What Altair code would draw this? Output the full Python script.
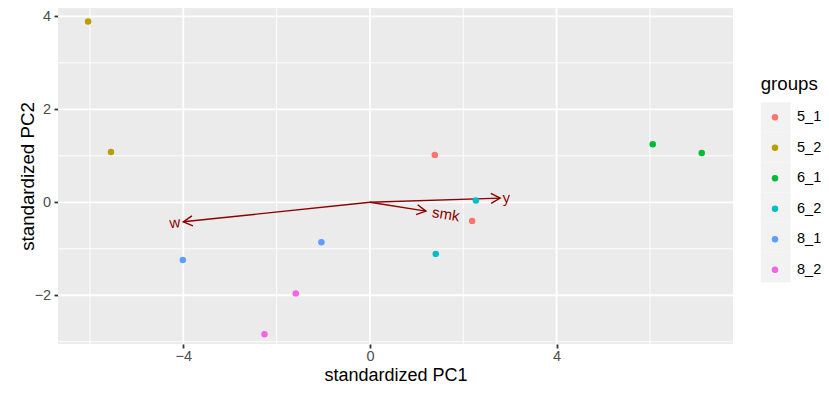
import math
import altair as alt
import pandas as pd

# ---------------- data ----------------
groups = ["5_1", "5_2", "6_1", "6_2", "8_1", "8_2"]
group_colors = ["#F8766D", "#B79F00", "#00BA38", "#00BFC4", "#619CFF", "#F564E3"]

pt_group = ["5_1", "5_1", "5_2", "5_2", "6_1", "6_1", "6_2", "6_2", "8_1", "8_1", "8_2", "8_2"]
pt_pc1 = [1.39, 2.19, -6.04, -5.55, 6.06, 7.11, 2.27, 1.41, -4.01, -1.04, -1.59, -2.26]
pt_pc2 = [1.02, -0.40, 3.89, 1.08, 1.25, 1.06, 0.04, -1.11, -1.24, -0.86, -1.96, -2.84]

var_names = ["y", "smk", "w"]
var_pc1 = [2.79, 1.20, -4.00]
var_pc2 = [0.09, -0.19, -0.42]

x_major = [-4, 0, 4]
x_minor = [-6, -2, 2, 6]
y_major = [-2, 0, 2, 4]
y_minor = [-3, -1, 1, 3]

x_domain = [-6.685, 7.78]
y_domain = [-3.049, 4.18]

# ---------------- style ----------------
FONT = "Liberation Sans"
ARROW = "#8B0000"
HEAD = "M-1,-0.54L0,0L-1,0.54"
label_dx = {"y": 2.5, "smk": 6.5, "w": -3.0}

pts = pd.DataFrame({"pc1": pt_pc1, "pc2": pt_pc2, "group": pt_group, "key": pt_group})

vars_df = pd.DataFrame({"name": var_names, "pc1": var_pc1, "pc2": var_pc2})
vars_df["x0"] = 0.0
vars_df["y0"] = 0.0
vars_df["head_ang"] = [math.degrees(math.atan2(-b, a)) % 360 for a, b in zip(var_pc1, var_pc2)]
vars_df["txt_ang"] = [(-math.degrees(math.atan(b / a))) % 360 for a, b in zip(var_pc1, var_pc2)]

xs = alt.Scale(domain=x_domain, nice=False, zero=False)
ys = alt.Scale(domain=y_domain, nice=False, zero=False)
xaxis = alt.Axis(values=x_major, title="standardized PC1", titleBaseline="alphabetic", titleY=36.5,
                 labelPadding=1.5, titleFontSize=18)
yaxis = alt.Axis(values=y_major, title="standardized PC2", titleBaseline="alphabetic", titleX=-24.5,
                 labelPadding=3.3)


def X(f):
    return alt.X(f, scale=xs, axis=xaxis)


def Y(f):
    return alt.Y(f, scale=ys, axis=yaxis)


minor_x = alt.Chart(pd.DataFrame({"v": x_minor})).mark_rule(color="white", strokeWidth=0.9).encode(x=X("v:Q"))
minor_y = alt.Chart(pd.DataFrame({"v": y_minor})).mark_rule(color="white", strokeWidth=0.9).encode(y=Y("v:Q"))
major_x = alt.Chart(pd.DataFrame({"v": x_major})).mark_rule(color="white", strokeWidth=1.8).encode(x=X("v:Q"))
major_y = alt.Chart(pd.DataFrame({"v": y_major})).mark_rule(color="white", strokeWidth=1.8).encode(y=Y("v:Q"))

shafts = alt.Chart(vars_df).mark_rule(color=ARROW, strokeWidth=1.4).encode(
    x=X("x0:Q"), y=Y("y0:Q"), x2="pc1:Q", y2="pc2:Q"
)
heads = alt.Chart(vars_df).mark_point(
    shape=HEAD, filled=False, size=338, strokeWidth=1.4, color=ARROW, opacity=1
).encode(x=X("pc1:Q"), y=Y("pc2:Q"), angle=alt.Angle("head_ang:Q", scale=None))

points = alt.Chart(pts).mark_circle(size=42, opacity=1).encode(
    x=X("pc1:Q"),
    y=Y("pc2:Q"),
    color=alt.Color(
        "group:N",
        scale=alt.Scale(domain=groups, range=group_colors),
        legend=alt.Legend(
            title=None, orient="none", legendX=709.75, legendY=102.05,
            direction="vertical", columns=1, padding=0,
            symbolType="circle", symbolSize=42, symbolStrokeWidth=0,
            labelFont=FONT, labelFontSize=14.5, labelColor="black",
            labelOffset=14.75, rowPadding=15.5, zindex=1,
        ),
    ),
)

keybg = alt.Chart(pts).mark_point(size=0, opacity=1, filled=True, color="#F2F2F2").encode(
    x=X("pc1:Q"),
    y=Y("pc2:Q"),
    shape=alt.Shape(
        "key:N",
        scale=alt.Scale(range=["square"]),
        legend=alt.Legend(
            title="groups", orient="none", legendX=702.7, legendY=67,
            direction="vertical", columns=1, padding=0,
            symbolSize=900, symbolFillColor="#F2F2F2", symbolStrokeWidth=0,
            labelExpr="''", rowPadding=0,
            titleFont=FONT, titleFontSize=18.7, titleFontWeight="normal",
            titleColor="black", titlePadding=8.6, zindex=0,
        ),
    ),
)

labels = []
for n in var_names:
    sub = vars_df[vars_df["name"] == n]
    a = "left" if float(sub["pc1"].iloc[0]) > 0 else "right"
    labels.append(
        alt.Chart(sub).mark_text(
            align=a, baseline="middle", dx=label_dx[n], fontSize=15, font=FONT, color=ARROW
        ).encode(x=X("pc1:Q"), y=Y("pc2:Q"), text="name:N",
                 angle=alt.Angle("txt_ang:Q", scale=None))
    )

chart = (
    alt.layer(minor_x, minor_y, major_x, major_y, shafts, heads, points, keybg, *labels)
    .properties(width=675, height=336,
                autosize=alt.AutoSizeParams(type="none"),
                padding={"left": 50, "top": 0, "right": 88, "bottom": 41},
                background="white")
    .configure_view(fill="#EBEBEB", stroke=None)
    .configure_axis(
        grid=False, domain=False, tickColor="#333333", tickWidth=1.8, tickSize=4,
        labelColor="#4D4D4D", labelFont=FONT, labelFontSize=14.5,
        titleFont=FONT, titleFontSize=18.7, titleFontWeight="normal", titleColor="black",
    )
)

chart.save("out.html", embed_options={"renderer": "svg", "actions": False})
